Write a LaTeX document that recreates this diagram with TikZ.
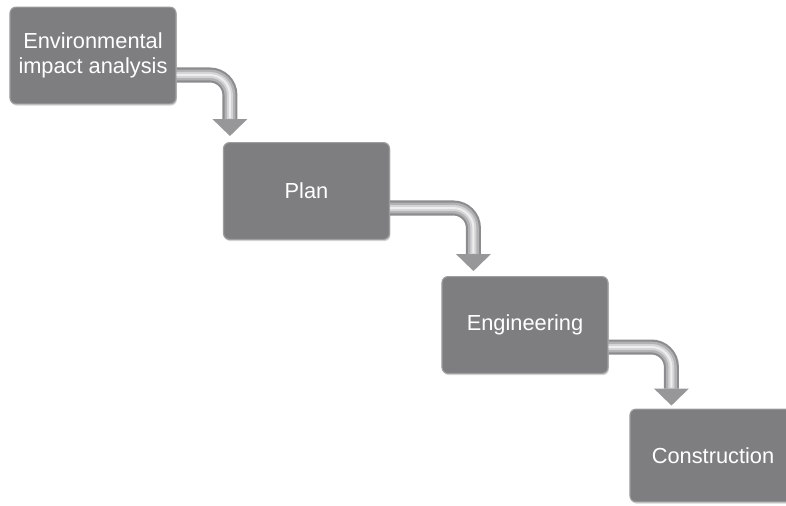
\documentclass[tikz,border=0pt]{standalone}
\usepackage{fontspec}
\setmainfont{Liberation Sans}
\usetikzlibrary{arrows.meta,calc,shadows}

\definecolor{boxgray}{RGB}{126,126,129}
\definecolor{boxedge}{RGB}{158,158,160}
\definecolor{pipedark}{RGB}{140,140,142}
\definecolor{pipemid}{RGB}{178,178,180}
\definecolor{pipesoft}{RGB}{212,212,214}
\definecolor{pipelight}{RGB}{238,238,238}

\tikzset{
  stepbox/.style={rectangle, rounded corners=0.15cm, fill=boxgray, draw=boxedge,
    line width=0.8pt, minimum width=4.15cm, minimum height=2.42cm,
    text=white, align=center, font=\fontsize{15.5}{17.5}\selectfont,
    drop shadow={opacity=0.35, shadow xshift=0.6pt, shadow yshift=-1.2pt}},
  pipe/.style={rounded corners=0.5cm, line width=0.375cm, draw=pipedark,
    -{Triangle[width=0.875cm, length=0.425cm, line width=0pt, fill=pipedark!90!white]}},
  pipefill/.style={rounded corners=0.5cm, line width=0.27cm, draw=pipemid, shorten >=0.42cm},
  pipesoft/.style={rounded corners=0.5cm, line width=0.15cm, draw=pipesoft, shorten >=0.43cm},
  pipeshine/.style={rounded corners=0.5cm, line width=0.05cm, draw=pipelight, shorten >=0.45cm},
}

\begin{document}
\begin{tikzpicture}[x=0.025cm, y=-0.025cm]
      \useasboundingbox (0,0) rectangle (786,505);
      % steps
      \node[stepbox] (env)  at (93,55.5)  {Environmental\\impact analysis};
      \node[stepbox] (plan) at (306.5,191) {Plan};
      \node[stepbox] (eng)  at (525,325)  {Engineering};
      \node[stepbox, minimum height=2.32cm] (cons) at (713,455.5) {Construction};
      % end points of the pipes
      \coordinate (a1) at ($(env.east)+(0,19.5)$);
      \coordinate (b1) at ($(plan.north west)+(7,-6)$);
      \coordinate (a2) at ($(plan.east)+(0,17)$);
      \coordinate (b2) at ($(eng.north west)+(32,-5)$);
      \coordinate (a3) at ($(eng.east)+(0,22)$);
      \coordinate (b3) at ($(cons.north west)+(42,-3)$);
      % pipes
      \foreach \i in {1,2,3} {
        \draw[pipe]      (a\i) -| (b\i);
        \draw[pipefill]  (a\i) -| (b\i);
        \draw[pipesoft]  (a\i) -| (b\i);
        \draw[pipeshine] (a\i) -| (b\i);
      }
\end{tikzpicture}
\end{document}
